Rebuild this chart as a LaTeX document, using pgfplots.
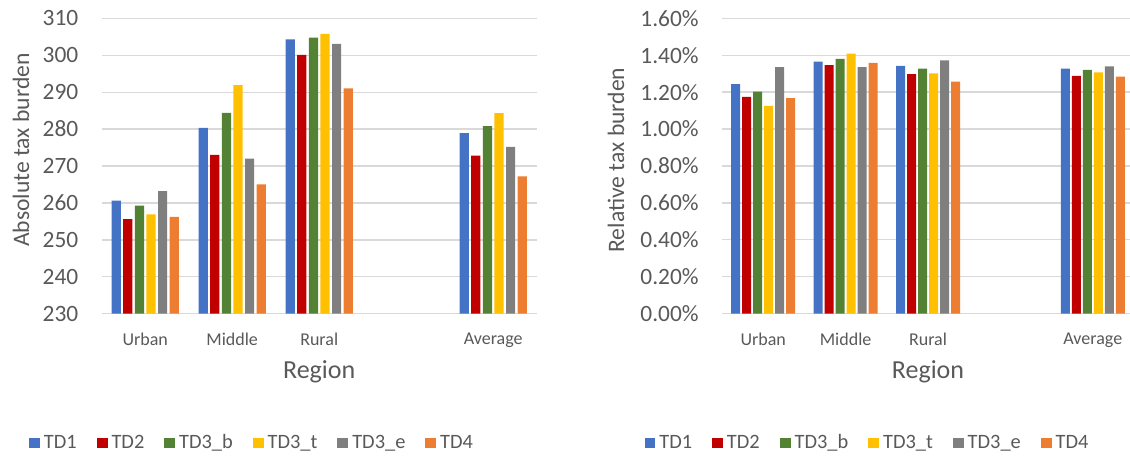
\documentclass[border=0pt]{standalone}
\usepackage{fontspec}
\setmainfont{Carlito}
\usepackage{pgfplots}
\usepackage{pgfplotstable}
\pgfplotsset{compat=1.18}
\definecolor{cA}{HTML}{4472C4}
\definecolor{cB}{HTML}{C00000}
\definecolor{cC}{HTML}{548235}
\definecolor{cD}{HTML}{FFC000}
\definecolor{cE}{HTML}{7F7F7F}
\definecolor{cF}{HTML}{ED7D31}
\definecolor{txt}{HTML}{595959}
\definecolor{grd}{HTML}{D9D9D9}

\pgfplotstableread{
x TDa TDb TDc TDd TDe TDf
0 260.6 255.6 259.3 256.9 263.2 256.2
1 280.3 273.0 284.4 291.9 272.0 265.0
2 304.3 300.1 304.8 305.8 303.1 291.0
4 278.9 272.8 280.8 284.3 275.2 267.2
}\absdata
\pgfplotstableread{
x TDa TDb TDc TDd TDe TDf
0 1.244 1.174 1.203 1.125 1.335 1.167
1 1.365 1.347 1.380 1.409 1.335 1.358
2 1.342 1.298 1.327 1.302 1.372 1.257
4 1.327 1.288 1.320 1.307 1.340 1.284
}\reldata

\pgfplotsset{
  mystyle/.style={
    scale only axis,
    /pgf/number format/assume math mode=true,
    xmin=-0.5, xmax=4.5,
    xtick={0,1,2,4},
    xticklabels={Urban,Middle,Rural,Average},
    axis line style={draw=none},
    major tick style={draw=none},
    minor tick style={draw=none},
    ymajorgrids,
    major grid style={color=grd, line width=0.65pt},
    yticklabel style={font=\fontsize{11.7}{13}\selectfont, color=txt, inner sep=0pt, anchor=east, xshift=-11.5pt},
    xticklabel style={font=\fontsize{9}{10}\selectfont, color=txt, inner sep=0pt, anchor=north, yshift=-5pt},
    every axis y label/.style={rotate=90, anchor=center, font=\fontsize{11.8}{13}\selectfont, color=txt},
    every axis x label/.style={anchor=center, font=\fontsize{13}{14}\selectfont, color=txt, at={(rel axis cs:0.5,-0.197)}},
    xlabel={Region},
    legend columns=6,
    legend style={draw=none, fill=none, font=\fontsize{10.2}{11}\selectfont, text=txt, anchor=center,
      /tikz/every even column/.append style={column sep=8pt},
      /tikz/every odd column/.append style={column sep=0pt}},
    every axis plot/.append style={draw=none},
  },
  sq legend/.style={legend image code/.code={\fill[##1] (0pt,-2.7pt) rectangle (5.4pt,2.7pt);}},
}

\begin{document}
\begin{tikzpicture}
\useasboundingbox (0,0) rectangle (565pt,230pt);
\begin{axis}[mystyle,
  at={(50.85pt,73.15pt)}, anchor=south west,
  width=217.5pt, height=147.7pt,
  ymin=230, ymax=310, ytick={230,240,...,310},
  ybar=1.2pt, bar width=4.6pt, sq legend,
  ylabel={Absolute tax burden},
  every axis y label/.append style={at={(rel axis cs:-0.1855,0.554)}},
  legend style={at={(rel axis cs:0.348,-0.4377)}},
]
\addplot[fill=cA] table[x=x,y=TDa]{\absdata};
\addplot[fill=cB] table[x=x,y=TDb]{\absdata};
\addplot[fill=cC] table[x=x,y=TDc]{\absdata};
\addplot[fill=cD] table[x=x,y=TDd]{\absdata};
\addplot[fill=cE] table[x=x,y=TDe]{\absdata};
\addplot[fill=cF] table[x=x,y=TDf]{\absdata};
\legend{TD1,TD2,TD3\_b,TD3\_t,TD3\_e,TD4}
\end{axis}
\begin{axis}[mystyle,
  at={(361pt,73.15pt)}, anchor=south west,
  width=206pt, height=147.7pt,
  ymin=0, ymax=1.6, ytick={0,0.2,...,1.61},
  yticklabel={\pgfmathprintnumber[fixed,fixed zerofill,precision=2]{\tick}\%},
  ybar=1pt, bar width=4.5pt, sq legend,
  ylabel={Relative tax burden},
  every axis y label/.append style={at={(rel axis cs:-0.257,0.52)}},
  legend style={at={(rel axis cs:0.3556,-0.4377)}},
]
\addplot[fill=cA] table[x=x,y=TDa]{\reldata};
\addplot[fill=cB] table[x=x,y=TDb]{\reldata};
\addplot[fill=cC] table[x=x,y=TDc]{\reldata};
\addplot[fill=cD] table[x=x,y=TDd]{\reldata};
\addplot[fill=cE] table[x=x,y=TDe]{\reldata};
\addplot[fill=cF] table[x=x,y=TDf]{\reldata};
\legend{TD1,TD2,TD3\_b,TD3\_t,TD3\_e,TD4}
\end{axis}
\end{tikzpicture}
\end{document}
